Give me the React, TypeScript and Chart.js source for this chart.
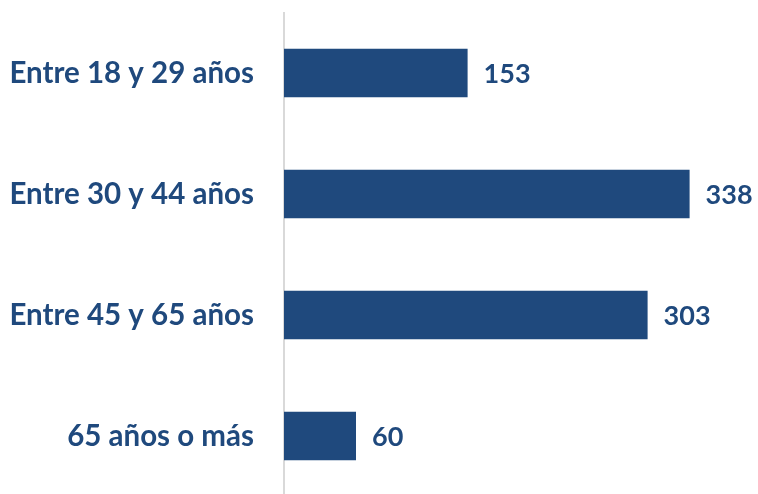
import React, { useEffect, useRef } from "react";
import { Chart, registerables } from "chart.js";

Chart.register(...registerables);

const categories = ["Entre 18 y 29 años", "Entre 30 y 44 años", "Entre 45 y 65 años", "65 años o más"];
const values = [153, 338, 303, 60];

const BAR_COLOR = "#1F497D";
const TEXT_COLOR = "#1F497D";
const FONT_FAMILY = "Lato, 'Open Sans', sans-serif";

const valueLabels = {
  id: "valueLabels",
  afterDatasetsDraw(chart: any) {
    const ctx = chart.ctx;
    const meta = chart.getDatasetMeta(0);
    ctx.save();
    ctx.fillStyle = TEXT_COLOR;
    ctx.font = `bold 27px ${FONT_FAMILY}`;
    ctx.textAlign = "left";
    ctx.textBaseline = "middle";
    meta.data.forEach((bar: any, i: number) => {
      ctx.fillText(String(values[i]), bar.x + 16, bar.y + 1.5);
    });
    ctx.restore();
  },
};

export default function App() {
  const ref = useRef<HTMLCanvasElement | null>(null);
  useEffect(() => {
    if (!ref.current) return;
    const chart = new Chart(ref.current, {
      type: "bar",
      data: {
        labels: categories,
        datasets: [
          {
            data: values,
            backgroundColor: BAR_COLOR,
            barPercentage: 0.4,
            categoryPercentage: 1,
          },
        ],
      },
      options: {
        indexAxis: "y",
        animation: false,
        responsive: false,
        maintainAspectRatio: false,
        layout: { padding: { top: 12.5, bottom: 0.5, left: 0, right: 0 } },
        plugins: { legend: { display: false }, tooltip: { enabled: false } },
        scales: {
          x: { display: false, min: 0, max: 395 },
          y: {
            afterFit(scale: any) {
              scale.width = 284;
              scale.paddingTop = 0;
              scale.paddingBottom = 0;
            },
            grid: { display: false, drawTicks: false },
            border: { display: true, color: "#D9D9D9", width: 2 },
            ticks: {
              color: TEXT_COLOR,
              padding: 30,
              font: { family: FONT_FAMILY, size: 29.5, weight: "bold" },
            },
          },
        },
      },
      plugins: [valueLabels],
    } as any);
    return () => chart.destroy();
  }, []);
  return (
    <div style={{ position: "absolute", left: 0, top: 0, width: 758, height: 494, overflow: "hidden", background: "#fff" }}>
      <canvas ref={ref} width={758} height={497} style={{ width: 758, height: 497, display: "block" }} />
    </div>
  );
}
